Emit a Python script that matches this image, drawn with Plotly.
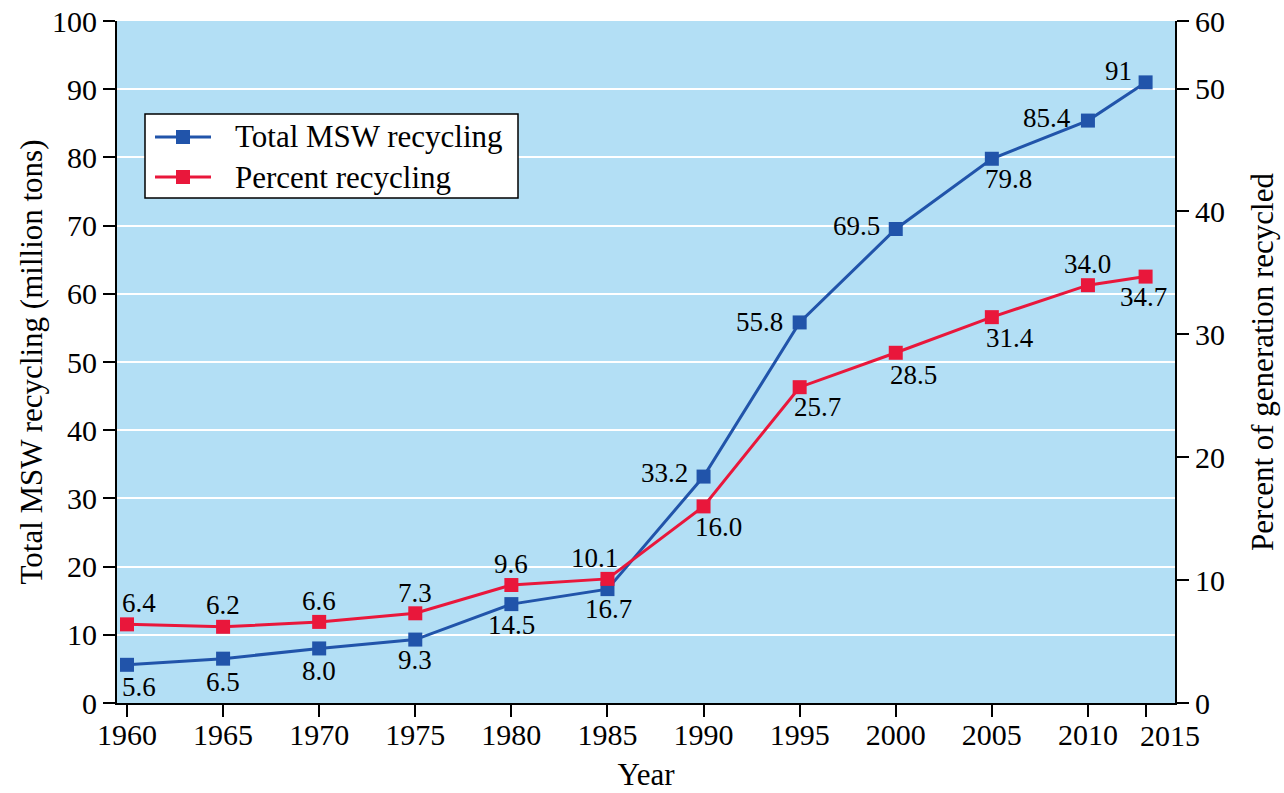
import plotly.graph_objects as go

# Year labels shown on the x axis and the axis positions they sit at
year_labels = ["1960", "1965", "1970", "1975", "1980", "1985", "1990",
               "1995", "2000", "2005", "2010", "2015"]
year_pos = [1960, 1965, 1970, 1975, 1980, 1985, 1990, 1995, 2000, 2005, 2010, 2013]

# Total MSW recycling (million tons)
msw_total = [5.6, 6.5, 8.0, 9.3, 14.5, 16.7, 33.2, 55.8, 69.5, 79.8, 85.4, 91]
msw_total_text = ["5.6", "6.5", "8.0", "9.3", "14.5", "16.7", "33.2",
                  "55.8", "69.5", "79.8", "85.4", "91"]

# Percent of generation recycled
pct_recycled = [6.4, 6.2, 6.6, 7.3, 9.6, 10.1, 16.0, 25.7, 28.5, 31.4, 34.0, 34.7]
pct_recycled_text = ["6.4", "6.2", "6.6", "7.3", "9.6", "10.1", "16.0",
                     "25.7", "28.5", "31.4", "34.0", "34.7"]

# Right axis tick labels (top label sits at the top edge of the plot)
pct_tick_vals = [0, 10, 20, 30, 40, 50, 55.5]
pct_tick_text = ["0", "10", "20", "30", "40", "50", "60"]

series_names = ["Total MSW recycling", "Percent recycling"]

BLUE = "#2154aa"
RED = "#e9173b"
BG = "#b3dff5"
FONT = "Liberation Serif"
LABEL_SIZE = 27
TICK_SIZE = 30
TITLE_SIZE = 31

# plot area in pixels
W, H = 1284, 793
ML, MR, MT, MB = 117, 109, 21, 90
PW, PH = W - ML - MR, H - MT - MB


def px_x(px):
    return (px - ML) / PW


def px_y(py):
    return (H - MB - py) / PH


# label placement (xshift, yshift, xanchor) for each point
blue_place = [(12, -22, "center"), (0, -23, "center"), (0, -23, "center"),
              (0, -20, "center"), (0, -21, "center"), (1, -20, "center"),
              (-14, 4, "right"), (-15, 0, "right"), (-14, 3, "right"),
              (17, -20, "center"), (-15, 3, "right"), (-12, 11, "right")]
red_place = [(12, 21, "center"), (0, 22, "center"), (0, 21, "center"),
             (0, 20, "center"), (0, 21, "center"), (-13, 21, "center"),
             (15, -21, "center"), (18, -20, "center"), (18, -22, "center"),
             (18, -21, "center"), (0, 21, "center"), (-2, -20, "center")]

fig = go.Figure()

fig.add_trace(go.Scatter(
    x=year_pos, y=msw_total, name=series_names[0],
    mode="lines+markers",
    line=dict(color=BLUE, width=3),
    marker=dict(symbol="square", size=14, color=BLUE),
))
fig.add_trace(go.Scatter(
    x=year_pos, y=pct_recycled, name=series_names[1],
    mode="lines+markers", yaxis="y2",
    line=dict(color=RED, width=3),
    marker=dict(symbol="square", size=14, color=RED),
))

annotations = []
for xv, yv, txt, (dx, dy, anc) in zip(year_pos, msw_total, msw_total_text, blue_place):
    annotations.append(dict(x=xv, y=yv, xref="x", yref="y", text=txt,
                            showarrow=False, xanchor=anc, yanchor="middle",
                            xshift=dx, yshift=dy,
                            font=dict(family=FONT, size=LABEL_SIZE, color="black")))
for xv, yv, txt, (dx, dy, anc) in zip(year_pos, pct_recycled, pct_recycled_text, red_place):
    annotations.append(dict(x=xv, y=yv, xref="x", yref="y2", text=txt,
                            showarrow=False, xanchor=anc, yanchor="middle",
                            xshift=dx, yshift=dy,
                            font=dict(family=FONT, size=LABEL_SIZE, color="black")))

# last x tick label is set a little to the right of its tick
annotations.append(dict(x=year_pos[-1], y=px_y(735), xref="x", yref="paper",
                        text=year_labels[-1], showarrow=False,
                        xanchor="center", yanchor="middle", xshift=24,
                        font=dict(family=FONT, size=TICK_SIZE, color="black")))
x_tick_text = year_labels[:-1] + [""]

# legend box with line/marker samples
shapes = [dict(type="rect", xref="paper", yref="paper",
               x0=px_x(145), x1=px_x(518), y0=px_y(198), y1=px_y(114),
               line=dict(color="black", width=1.5), fillcolor="white", layer="above")]
for row_y, color, name in zip([137, 177], [BLUE, RED], series_names):
    shapes.append(dict(type="line", xref="paper", yref="paper",
                       x0=px_x(155), x1=px_x(211), y0=px_y(row_y), y1=px_y(row_y),
                       line=dict(color=color, width=3), layer="above"))
    shapes.append(dict(type="rect", xref="paper", yref="paper",
                       x0=px_x(176), x1=px_x(190), y0=px_y(row_y + 7), y1=px_y(row_y - 7),
                       line=dict(width=0), fillcolor=color, layer="above"))
    annotations.append(dict(x=px_x(233), y=px_y(row_y), xref="paper", yref="paper",
                            text=name, showarrow=False, xanchor="left", yanchor="middle",
                            font=dict(family=FONT, size=TITLE_SIZE, color="black")))

axis_common = dict(
    showline=True, linecolor="black", linewidth=2,
    ticks="outside", ticklen=12, tickwidth=2, tickcolor="black",
    tickfont=dict(family=FONT, size=TICK_SIZE, color="black"),
    zeroline=False, automargin=False,
)

fig.update_layout(
    width=W, height=H,
    margin=dict(l=ML, r=MR, t=MT, b=MB),
    paper_bgcolor="white",
    plot_bgcolor=BG,
    font=dict(family=FONT, color="black"),
    showlegend=False,
    xaxis=dict(
        range=[1959.48, 2014.53],
        tickmode="array", tickvals=year_pos, ticktext=x_tick_text,
        tickangle=0, ticklabelstandoff=-8,
        showgrid=False,
        title=dict(text="Year", font=dict(family=FONT, size=TITLE_SIZE, color="black"),
                   standoff=13),
        **axis_common,
    ),
    yaxis=dict(
        range=[0, 100], tickmode="linear", tick0=0, dtick=10,
        showgrid=True, gridcolor="white", gridwidth=2,
        title=dict(text="Total MSW recycling (million tons)",
                   font=dict(family=FONT, size=TITLE_SIZE, color="black"), standoff=0),
        **axis_common,
    ),
    yaxis2=dict(
        range=[0, 55.5], overlaying="y", side="right",
        tickmode="array", tickvals=pct_tick_vals, ticktext=pct_tick_text,
        showgrid=False,
        title=dict(text="Percent of generation recycled",
                   font=dict(family=FONT, size=TITLE_SIZE, color="black"), standoff=27),
        **axis_common,
    ),
    shapes=shapes,
    annotations=annotations,
)

fig.write_html("out.html")
